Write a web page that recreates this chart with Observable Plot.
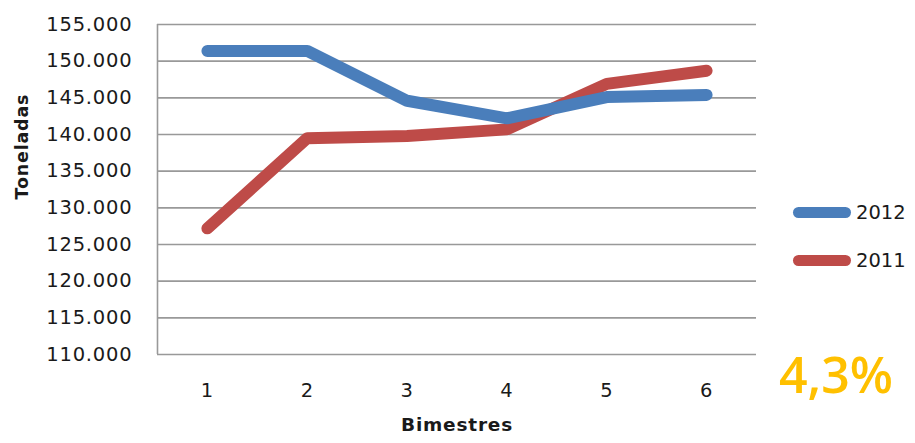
<!DOCTYPE html>
<html>
<head>
<meta charset="utf-8">
<script src="https://cdn.jsdelivr.net/npm/d3@7"></script>
<script src="https://cdn.jsdelivr.net/npm/@observablehq/plot@0.6"></script>
<style>
  html, body { margin: 0; padding: 0; background: #fff; }
  #wrap { position: relative; width: 915px; height: 443px; overflow: hidden; }
  #legend { position: absolute; left: 0; top: 0; font-family: "DejaVu Sans", sans-serif; font-size: 19.5px; color: #1a1a1a; }
  .item { position: absolute; left: 793px; height: 24px; display: flex; align-items: center; white-space: nowrap; }
  .sw { width: 58px; height: 11px; border-radius: 6px; margin-right: 5px; }
  #pct { position: absolute; left: 779px; top: 349px; font-family: "Open Sans", sans-serif; font-weight: 600; font-size: 50px; color: #FFC000; line-height: 1; }
</style>
</head>
<body>
<div id="wrap"></div>
<script>
const bimestres = [1, 2, 3, 4, 5, 6];
const series2012 = [151400, 151400, 144600, 142200, 145100, 145400];
const series2011 = [127200, 139500, 139800, 140700, 146900, 148700];
const seriesNames = ["2012", "2011"];
const seriesColors = ["#4A7EBB", "#BE4B48"];
const yTicks = [110000, 115000, 120000, 125000, 130000, 135000, 140000, 145000, 150000, 155000];
const xLabel = "Bimestres";
const yLabel = "Toneladas";
const changeText = "4,3%";

const rows = [];
bimestres.forEach((b, i) => {
  rows.push({bimestre: b, value: series2012[i], serie: seriesNames[0]});
});
bimestres.forEach((b, i) => {
  rows.push({bimestre: b, value: series2011[i], serie: seriesNames[1]});
});

const fmt = d => d3.format(",")(d).replace(/,/g, ".");

const chart = Plot.plot({
  width: 915,
  height: 443,
  marginLeft: 157,
  marginRight: 159,
  marginTop: 24,
  marginBottom: 89,
  style: {fontFamily: "DejaVu Sans, sans-serif", fontSize: "19.5px", color: "#1a1a1a", background: "#fff", letterSpacing: "0.8px"},
  x: {type: "linear", domain: [0.5, 6.5]},
  y: {domain: [110000, 155000]},
  color: {domain: seriesNames, range: seriesColors},
  marks: [
    Plot.ruleY(yTicks, {stroke: "#999", strokeWidth: 1.6}),
    Plot.ruleX([0.5], {stroke: "#999", strokeWidth: 1.6}),
    Plot.axisY(yTicks, {tickSize: 0, tickPadding: 25, tickFormat: fmt, label: null}),
    Plot.axisX(bimestres, {tickSize: 0, tickPadding: 29, tickFormat: d => String(d), label: null}),
    Plot.text([yLabel], {frameAnchor: "left", dx: -135, dy: 10, rotate: -90, fontWeight: "bold", fontSize: 17.5, letterSpacing: "0.3px"}),
    Plot.text([xLabel], {frameAnchor: "bottom", dy: 76, fontWeight: "bold", fontSize: 18.5, letterSpacing: "0.3px"}),
    Plot.lineY(rows.filter(d => d.serie === "2011"), {x: "bimestre", y: "value", stroke: "serie", strokeWidth: 12, strokeLinecap: "round", strokeLinejoin: "round"}),
    Plot.lineY(rows.filter(d => d.serie === "2012"), {x: "bimestre", y: "value", stroke: "serie", strokeWidth: 12, strokeLinecap: "round", strokeLinejoin: "round"})
  ]
});

const wrap = document.getElementById("wrap");
wrap.appendChild(chart);

const legend = document.createElement("div");
legend.id = "legend";
const tops = [200, 248];
seriesNames.forEach((name, i) => {
  const it = document.createElement("div");
  it.className = "item";
  it.style.top = tops[i] + "px";
  const sw = document.createElement("div");
  sw.className = "sw";
  sw.style.background = seriesColors[i];
  const tx = document.createElement("span");
  tx.textContent = name;
  it.appendChild(sw);
  it.appendChild(tx);
  legend.appendChild(it);
});
wrap.appendChild(legend);

const pct = document.createElement("div");
pct.id = "pct";
pct.textContent = changeText;
wrap.appendChild(pct);
</script>
</body>
</html>
